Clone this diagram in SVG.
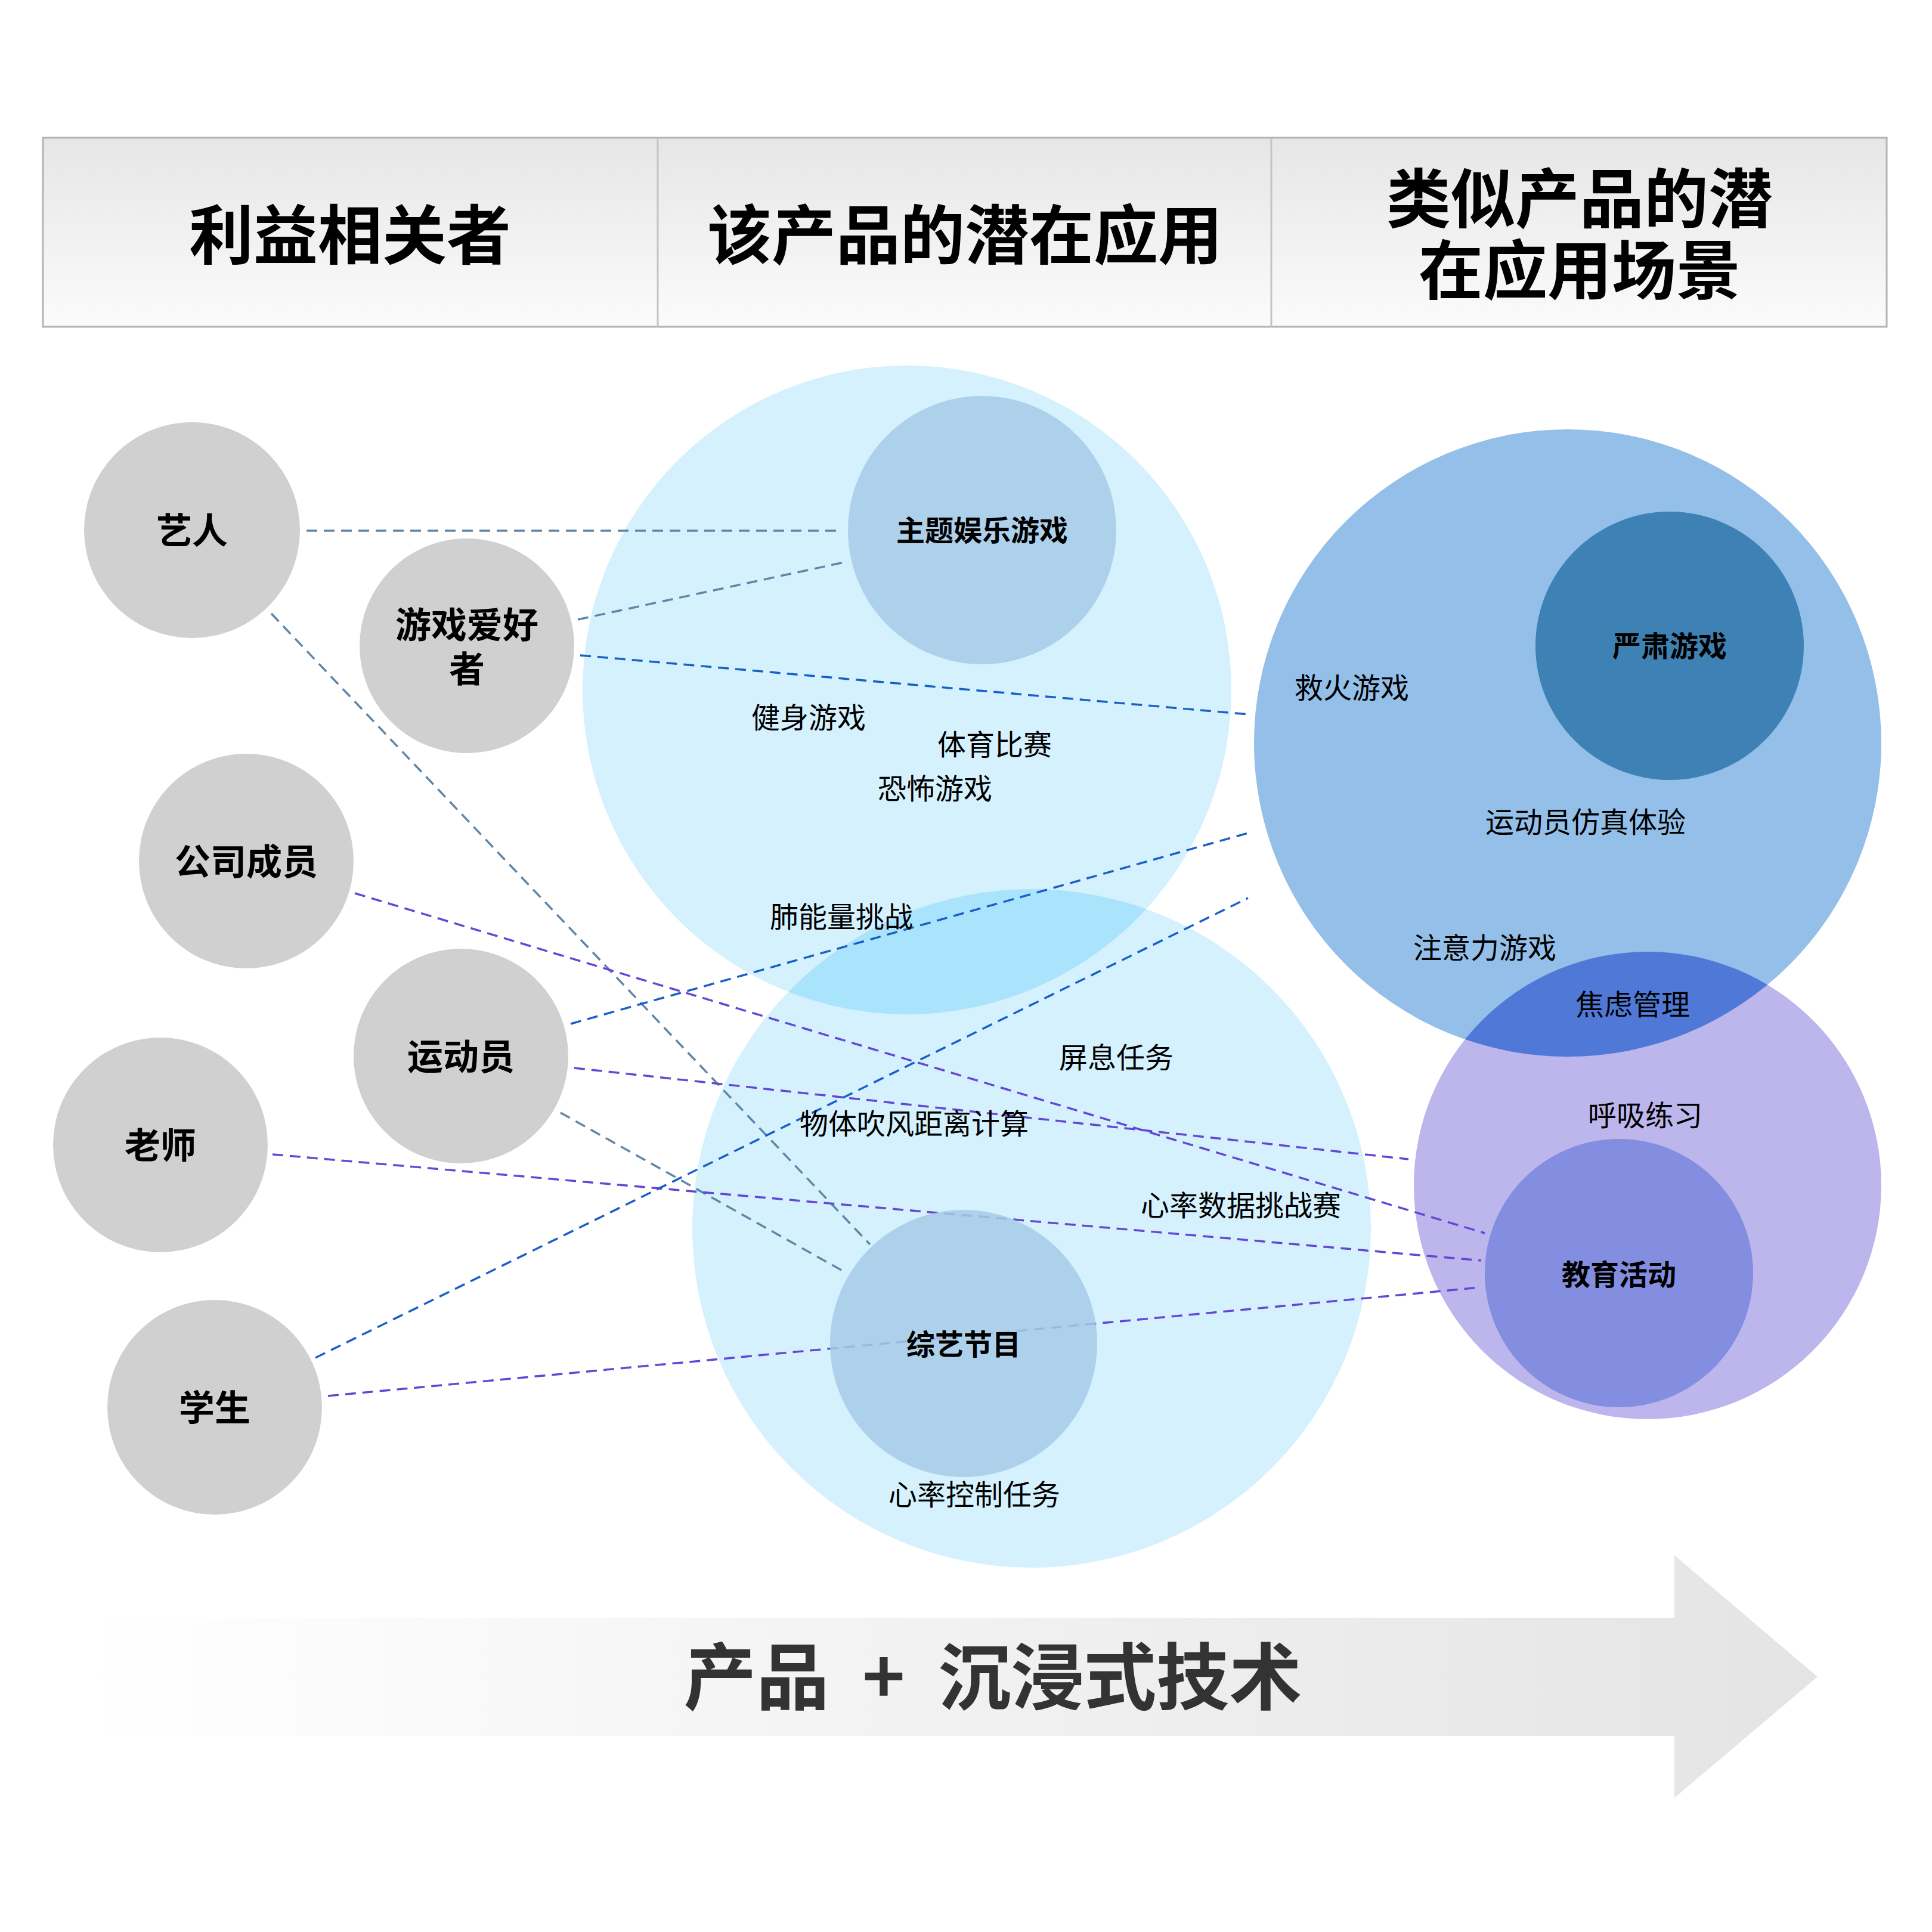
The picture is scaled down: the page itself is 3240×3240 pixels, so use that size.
<svg xmlns="http://www.w3.org/2000/svg" width="3240" height="3240" viewBox="0 0 3240 3240">
<defs>
<linearGradient id="hdr" x1="0" y1="0" x2="0" y2="1">
<stop offset="0" stop-color="#e6e6e6"/>
<stop offset="1" stop-color="#fbfbfb"/>
</linearGradient>
<linearGradient id="arr" x1="0" y1="0" x2="1" y2="0">
<stop offset="0" stop-color="#ffffff"/>
<stop offset="1" stop-color="#e4e4e4"/>
</linearGradient>
<clipPath id="clipTop"><circle cx="1521" cy="1157" r="544"/></clipPath>
<clipPath id="clipBlue"><circle cx="2629" cy="1246" r="526"/></clipPath>
<style>
.hd{font-family:"Noto Sans CJK SC","Noto Sans",sans-serif;font-weight:bold;font-size:108px;fill:#000;text-anchor:middle;dominant-baseline:central}
.st{fill:#d0d0d0}
.nl{font-family:"Noto Sans CJK SC","Noto Sans",sans-serif;font-weight:bold;font-size:60px;fill:#000;text-anchor:middle;dominant-baseline:central}
.il{font-family:"Noto Sans CJK SC","Noto Sans",sans-serif;font-weight:bold;font-size:48px;fill:#000;text-anchor:middle;dominant-baseline:central}
.lb{font-family:"Noto Sans CJK SC","Noto Sans",sans-serif;font-size:48px;fill:#000;text-anchor:middle;dominant-baseline:central}
.ln{fill:none;stroke-width:3.5;stroke-dasharray:18 11}
.s{stroke:#5f86a8}
.b{stroke:#1a5fc8}
.p{stroke:#6347d6}
</style>
</defs>
<rect width="3240" height="3240" fill="#ffffff"/>

<g id="header">
<rect x="72" y="231" width="3092" height="317" fill="url(#hdr)" stroke="#b4b4b4" stroke-width="3"/>
<line x1="1103" y1="231" x2="1103" y2="548" stroke="#c4c4c4" stroke-width="3"/>
<line x1="2132" y1="231" x2="2132" y2="548" stroke="#c4c4c4" stroke-width="3"/>
<text class="hd" x="587" y="387">利益相关者</text>
<text class="hd" x="1618" y="387">该产品的潜在应用</text>
<text class="hd"><tspan x="2649" y="326">类似产品的潜</tspan><tspan x="2649" y="446">在应用场景</tspan></text>
</g>

<g id="area-product">
<circle cx="1521" cy="1157" r="544" fill="#d4f1fd"/>
<circle cx="1730" cy="2060" r="569" fill="#d4f1fd"/>
<circle cx="1730" cy="2060" r="569" fill="#aae3fc" clip-path="url(#clipTop)"/>
</g>

<g id="area-similar">
<circle cx="2629" cy="1246" r="526" fill="#93bfe9"/>
<circle cx="2763" cy="1988" r="392" fill="#bcb6ec"/>
<circle cx="2763" cy="1988" r="392" fill="#5078d6" clip-path="url(#clipBlue)"/>
</g>

<g id="connectors">
<line class="ln s" x1="514" y1="890" x2="1413" y2="890"/>
<line class="ln s" x1="969" y1="1039" x2="1420" y2="942"/>
<line class="ln b" x1="973" y1="1099" x2="2093" y2="1198"/>
<line class="ln s" x1="455" y1="1029" x2="1459" y2="2087"/>
<line class="ln p" x1="595" y1="1498" x2="2490" y2="2068"/>
<line class="ln b" x1="957" y1="1717" x2="2093" y2="1397"/>
<line class="ln p" x1="963" y1="1791" x2="2362" y2="1944"/>
<line class="ln s" x1="940" y1="1866" x2="1418" y2="2134"/>
<line class="ln p" x1="457" y1="1936" x2="2484" y2="2114"/>
<line class="ln b" x1="529" y1="2277" x2="2093" y2="1506"/>
<line class="ln p" x1="550" y1="2341" x2="2482" y2="2159"/>
</g>

<g id="node-artist"><circle class="st" cx="322" cy="889" r="181"/><text class="nl" x="322" y="885">艺人</text></g>
<g id="node-gamer"><circle class="st" cx="783" cy="1083" r="180"/><text class="nl"><tspan x="783" y="1043">游戏爱好</tspan><tspan x="783" y="1117">者</tspan></text></g>
<g id="node-company"><circle class="st" cx="413" cy="1444" r="180"/><text class="nl" x="413" y="1440">公司成员</text></g>
<g id="node-athlete"><circle class="st" cx="773" cy="1771" r="180"/><text class="nl" x="773" y="1767">运动员</text></g>
<g id="node-teacher"><circle class="st" cx="269" cy="1920" r="180"/><text class="nl" x="269" y="1916">老师</text></g>
<g id="node-student"><circle class="st" cx="360" cy="2360" r="180"/><text class="nl" x="360" y="2356">学生</text></g>

<g id="node-theme-game"><circle cx="1647" cy="889" r="225" fill="#a7cbe7" fill-opacity="0.85"/><text class="il" x="1647" y="886">主题娱乐游戏</text></g>
<g id="node-variety"><circle cx="1616" cy="2253" r="224" fill="#a7cbe7" fill-opacity="0.85"/><text class="il" x="1616" y="2251">综艺节目</text></g>
<g id="node-serious-game"><circle cx="2800" cy="1083" r="225" fill="#3e82b5"/><text class="il" x="2800" y="1080">严肃游戏</text></g>
<g id="node-education"><circle cx="2715" cy="2135" r="225" fill="#838ee0"/><text class="il" x="2715" y="2134">教育活动</text></g>

<g id="labels">
<text class="lb" x="1356" y="1200">健身游戏</text>
<text class="lb" x="1668" y="1245">体育比赛</text>
<text class="lb" x="1568" y="1319">恐怖游戏</text>
<text class="lb" x="1411" y="1534">肺能量挑战</text>
<text class="lb" x="1872" y="1770">屏息任务</text>
<text class="lb" x="1533" y="1881">物体吹风距离计算</text>
<text class="lb" x="2081" y="2018">心率数据挑战赛</text>
<text class="lb" x="1634" y="2503">心率控制任务</text>
<text class="lb" x="2267" y="1150">救火游戏</text>
<text class="lb" x="2659" y="1375">运动员仿真体验</text>
<text class="lb" x="2490" y="1586">注意力游戏</text>
<text class="lb" x="2738" y="1681">焦虑管理</text>
<text class="lb" x="2759" y="1867">呼吸练习</text>
</g>

<g id="bottom-arrow">
<polygon points="150,2713 2808,2713 2808,2608 3048,2812 2808,3015 2808,2911 150,2911" fill="url(#arr)"/>
<text x="1665" y="2803" font-family="Noto Sans CJK SC, Noto Sans, sans-serif" font-weight="bold" font-size="122" fill="#333333" text-anchor="middle" dominant-baseline="central" xml:space="preserve">产品  +  沉浸式技术</text>
</g>
</svg>
